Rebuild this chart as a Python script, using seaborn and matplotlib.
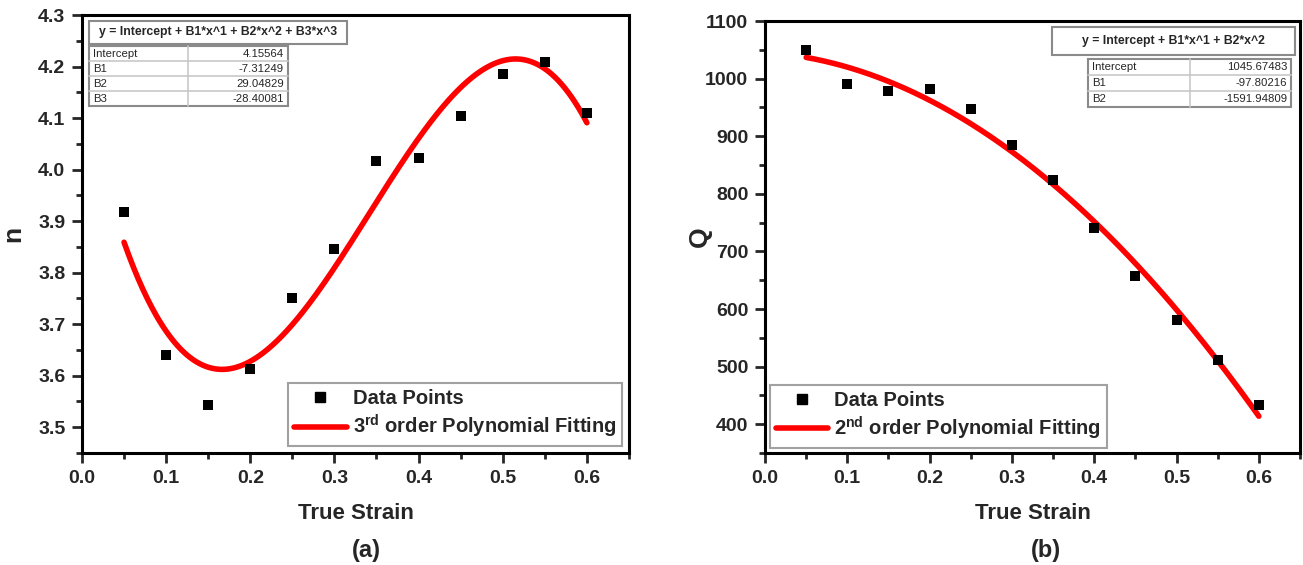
import numpy as np
import pandas as pd
import matplotlib
matplotlib.use("Agg")
import matplotlib.pyplot as plt
from matplotlib.patches import Rectangle
from matplotlib.lines import Line2D
from matplotlib.ticker import MultipleLocator
import seaborn as sns

# ---- data -------------------------------------------------------------
strain = [0.05, 0.10, 0.15, 0.20, 0.25, 0.30, 0.35, 0.40, 0.45, 0.50, 0.55, 0.60]
n_values = [3.918, 3.640, 3.543, 3.614, 3.750, 3.846, 4.016, 4.023, 4.105, 4.185, 4.208, 4.110]
q_values = [1050.2, 990.2, 979.2, 981.5, 946.9, 884.6, 824.0, 739.8, 657.8, 580.5, 511.3, 433.5]

n_coef_names = ["Intercept", "B1", "B2", "B3"]
n_coef_values = [4.15564, -7.31249, 29.04829, -28.40081]
n_coef_text = ["4.15564", "-7.31249", "29.04829", "-28.40081"]

q_coef_names = ["Intercept", "B1", "B2"]
q_coef_values = [1045.67483, -97.80216, -1591.94809]
q_coef_text = ["1045.67483", "-97.80216", "-1591.94809"]

n_formula = "y = Intercept + B1*x^1 + B2*x^2 + B3*x^3"
q_formula = "y = Intercept + B1*x^1 + B2*x^2"

x_ticks = [0.0, 0.1, 0.2, 0.3, 0.4, 0.5, 0.6]
n_ticks = [3.5, 3.6, 3.7, 3.8, 3.9, 4.0, 4.1, 4.2, 4.3]
q_ticks = [400, 500, 600, 700, 800, 900, 1000, 1100]

# ---- style ------------------------------------------------------------
sns.set_style("white")
plt.rcParams["font.family"] = ["Liberation Sans", "DejaVu Sans"]
plt.rcParams["font.weight"] = "bold"
plt.rcParams["mathtext.fontset"] = "custom"
plt.rcParams["mathtext.rm"] = "Liberation Sans:bold"
plt.rcParams["mathtext.bf"] = "Liberation Sans:bold"
plt.rcParams["mathtext.it"] = "Liberation Sans:bold"

RED = "#ff0000"
GREY = "#8a8a8a"

fig = plt.figure(figsize=(13.03, 5.65), dpi=100)
ax1 = fig.add_axes([0.0629, 0.1982, 0.4198, 0.7752])
ax2 = fig.add_axes([0.5871, 0.1982, 0.4106, 0.7646])


def fit_curve(coefs, x):
    return sum(c * x ** k for k, c in enumerate(coefs))


def style_axes(ax, ylim, yticks, ymajor, yminor, ylabel, ylabel_x):
    ax.set_xlim(0.0, 0.65)
    ax.set_ylim(*ylim)
    ax.xaxis.set_minor_locator(MultipleLocator(0.05))
    ax.set_xticks(x_ticks)
    ax.set_xticklabels([f"{t:.1f}" for t in x_ticks])
    ax.set_yticks(yticks)
    ax.yaxis.set_minor_locator(MultipleLocator(yminor))
    ax.set_yticklabels([ymajor(t) for t in yticks])
    ax.tick_params(which="major", direction="out", length=7, width=2,
                   labelsize=14, pad=5, bottom=True, left=True)
    ax.tick_params(which="minor", direction="out", length=4, width=2,
                   bottom=True, left=True)
    for lab in ax.get_xticklabels() + ax.get_yticklabels():
        lab.set_fontweight("bold")
    for sp in ax.spines.values():
        sp.set_linewidth(2.2)
        sp.set_color("black")
    ax.set_xlabel("True Strain", fontsize=16, fontweight="bold", labelpad=12)
    ax.set_ylabel(ylabel, fontsize=19, fontweight="bold")
    ax.yaxis.set_label_coords(ylabel_x, 0.5)


def draw_fit_table(ax, formula, names, texts, fbox, tbox, split):
    fx0, fy0, fx1, fy1 = fbox
    ax.add_patch(Rectangle((fx0, fy0), fx1 - fx0, fy1 - fy0, transform=ax.transAxes,
                           fill=True, facecolor="white", edgecolor=GREY, lw=1.5, zorder=5))
    ax.text((fx0 + fx1) / 2, (fy0 + fy1) / 2, formula, transform=ax.transAxes,
            ha="center", va="center", fontsize=8.8, fontweight="bold", zorder=6)
    tx0, ty0, tx1, ty1 = tbox
    ax.add_patch(Rectangle((tx0, ty0), tx1 - tx0, ty1 - ty0, transform=ax.transAxes,
                           fill=True, facecolor="white", edgecolor=GREY, lw=1.5, zorder=5))
    nrow = len(names)
    rh = (ty1 - ty0) / nrow
    ax.plot([split, split], [ty0, ty1], transform=ax.transAxes, color="#c8c8c8", lw=1.2, zorder=6)
    for i in range(1, nrow):
        y = ty1 - i * rh
        ax.plot([tx0, tx1], [y, y], transform=ax.transAxes, color="#c8c8c8", lw=1.2, zorder=6)
    for i, (nm, tv) in enumerate(zip(names, texts)):
        yc = ty1 - (i + 0.5) * rh
        ax.text(tx0 + 0.008, yc, nm, transform=ax.transAxes, ha="left", va="center",
                fontsize=8.2, fontweight="normal", zorder=7)
        ax.text(tx1 - 0.008, yc, tv, transform=ax.transAxes, ha="right", va="center",
                fontsize=8.2, fontweight="normal", zorder=7)


def add_legend(ax, fit_label, loc, anchor):
    handles = [
        Line2D([], [], ls="none", marker="s", color="black", markersize=7),
        Line2D([], [], color=RED, lw=4),
    ]
    leg = ax.legend(handles, ["Data Points", fit_label], loc=loc, bbox_to_anchor=anchor,
                    frameon=True, fancybox=False, borderaxespad=0.0, handlelength=2.6,
                    handletextpad=0.3, borderpad=0.3, labelspacing=0.25,
                    prop={"size": 14.5, "weight": "bold"})
    fr = leg.get_frame()
    fr.set_edgecolor(GREY)
    fr.set_linewidth(1.5)
    leg.set_zorder(8)


x_fit = np.linspace(strain[0], strain[-1], 300)

# ---- (a) stress exponent n ---------------------------------------------
df_n = pd.DataFrame({"strain": strain, "n": n_values})
fit_n = pd.DataFrame({"strain": x_fit, "n": fit_curve(n_coef_values, x_fit)})
sns.lineplot(data=fit_n, x="strain", y="n", ax=ax1, color=RED, lw=4, zorder=3)
sns.scatterplot(data=df_n, x="strain", y="n", ax=ax1, marker="s", s=60,
                color="black", edgecolor="black", linewidth=0, zorder=4)
style_axes(ax1, (3.45, 4.3), n_ticks, lambda t: f"{t:.1f}", 0.05, "n", -0.104)
draw_fit_table(ax1, n_formula, n_coef_names, n_coef_text,
               (0.012, 0.934, 0.484, 0.987), (0.012, 0.792, 0.377, 0.929), 0.193)
add_legend(ax1, r"3$^{\mathbf{rd}}$ order Polynomial Fitting", "lower right", (0.988, 0.015))

# ---- (b) activation energy Q -------------------------------------------
df_q = pd.DataFrame({"strain": strain, "Q": q_values})
fit_q = pd.DataFrame({"strain": x_fit, "Q": fit_curve(q_coef_values, x_fit)})
sns.lineplot(data=fit_q, x="strain", y="Q", ax=ax2, color=RED, lw=4, zorder=3)
sns.scatterplot(data=df_q, x="strain", y="Q", ax=ax2, marker="s", s=60,
                color="black", edgecolor="black", linewidth=0, zorder=4)
style_axes(ax2, (350, 1100), q_ticks, lambda t: f"{t:d}", 50, "Q", -0.1)
draw_fit_table(ax2, q_formula, q_coef_names, q_coef_text,
               (0.536, 0.921, 0.990, 0.985), (0.604, 0.800, 0.984, 0.911), 0.795)
add_legend(ax2, r"2$^{\mathbf{nd}}$ order Polynomial Fitting", "lower left", (0.009, 0.012))

# panel captions
fig.text(366 / 1303, 1 - 550 / 565, "(a)", ha="center", va="center", fontsize=17, fontweight="bold")
fig.text(1046 / 1303, 1 - 550 / 565, "(b)", ha="center", va="center", fontsize=17, fontweight="bold")

fig.savefig("out.png", dpi=100)
